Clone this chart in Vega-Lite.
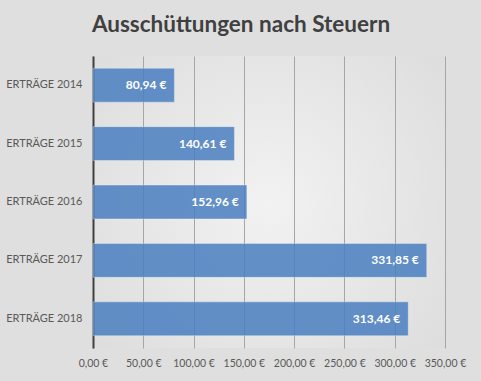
{
  "$schema": "https://vega.github.io/schema/vega-lite/v6.json",
  "width": 352,
  "height": 292,
  "autosize": {"type": "none"},
  "padding": {"left": 93, "top": 56, "right": 36, "bottom": 33},
  "background": "#dfdfdf",
  "title": {
    "text": "Ausschüttungen nach Steuern",
    "font": "Lato",
    "fontSize": 22.5,
    "fontWeight": "bold",
    "color": "#404040",
    "anchor": "middle",
    "dx": -28,
    "offset": 20
  },
  "config": {
    "locale": {
      "number": {
        "decimal": ",",
        "thousands": ".",
        "grouping": [3],
        "currency": ["", " €"]
      }
    },
    "view": {
      "stroke": null,
      "fill": {
        "gradient": "radial",
        "x1": 0.5, "y1": 0.5, "r1": 0,
        "x2": 0.5, "y2": 0.5, "r2": 0.75,
        "stops": [
          {"offset": 0, "color": "#f2f2f2"},
          {"offset": 1, "color": "#dadada"}
        ]
      }
    },
    "font": "Lato"
  },
  "data": {
    "values": [
      {"Kategorie": "ERTRÄGE 2014", "Betrag": 80.94},
      {"Kategorie": "ERTRÄGE 2015", "Betrag": 140.61},
      {"Kategorie": "ERTRÄGE 2016", "Betrag": 152.96},
      {"Kategorie": "ERTRÄGE 2017", "Betrag": 331.85},
      {"Kategorie": "ERTRÄGE 2018", "Betrag": 313.46}
    ]
  },
  "encoding": {
    "y": {
      "field": "Kategorie",
      "type": "nominal",
      "sort": null,
      "scale": {"paddingInner": 0.42, "paddingOuter": 0.21},
      "axis": {
        "title": null,
        "ticks": false,
        "labelFont": "Lato",
        "labelFontSize": 11,
        "labelColor": "#595959",
        "labelPadding": 11,
        "domainColor": "#404040",
        "domainWidth": 2
      }
    },
    "x": {
      "field": "Betrag",
      "type": "quantitative",
      "scale": {"domain": [0, 350], "nice": false},
      "axis": {
        "title": null,
        "values": [0, 50, 100, 150, 200, 250, 300, 350],
        "format": "$.2f",
        "domain": false,
        "ticks": false,
        "labelOverlap": false,
        "labelFlush": false,
        "labelFont": "Lato",
        "labelFontSize": 10.5,
        "labelColor": "#595959",
        "labelPadding": 10,
        "gridColor": "#a6a6a6",
        "gridWidth": 1
      }
    }
  },
  "layer": [
    {
      "mark": {"type": "bar", "color": "#4a7fc0", "opacity": 0.85, "stroke": "#ffffff", "strokeOpacity": 0.35, "strokeWidth": 1}
    },
    {
      "mark": {"type": "text", "align": "right", "dx": -8, "color": "#ffffff", "fontWeight": "bold", "fontSize": 12, "font": "Lato"},
      "encoding": {
        "text": {"field": "Betrag", "type": "quantitative", "format": "$.2f"}
      }
    }
  ]
}
